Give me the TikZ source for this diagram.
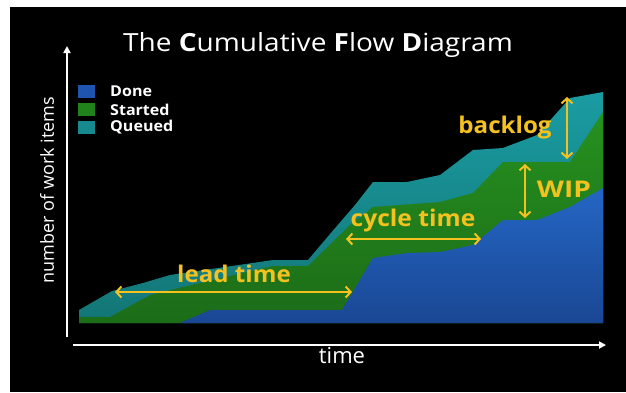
\documentclass[tikz,border=0pt]{standalone}
\usepackage{fontspec}
\usepackage{graphicx}
\setmainfont{Open Sans}
\usetikzlibrary{arrows.meta}
\definecolor{doneblue}{HTML}{1F55B0}
\definecolor{donebluetop}{HTML}{2466C4}
\definecolor{donebluebot}{HTML}{1A4794}
\definecolor{startgreen}{HTML}{21821C}
\definecolor{startgreentop}{HTML}{26911F}
\definecolor{startgreenbot}{HTML}{1C6C18}
\definecolor{queueteal}{HTML}{168A8E}
\definecolor{queuetealtop}{HTML}{1A9CA2}
\definecolor{queuetealbot}{HTML}{137575}
\definecolor{gold}{HTML}{F4C11F}
\tikzset{
  axis/.style={draw=white, line width=2pt, -{Triangle[length=7pt,width=7pt]}},
  measure/.style={draw=gold, line width=2.4pt, {Straight Barb[length=5pt,width=11pt,line width=2pt]}-{Straight Barb[length=5pt,width=11pt,line width=2pt]}},
  goldlabel/.style={text=gold, font=\fontsize{23}{25}\selectfont\bfseries, inner sep=0pt},
  legendbox/.style={minimum width=17pt, minimum height=13pt, inner sep=0pt},
  legendtext/.style={text=white, font=\fontsize{15}{17}\selectfont\bfseries, anchor=west, inner sep=0pt},
}
\begin{document}
\begin{tikzpicture}[x=1pt,y=-1pt]
\useasboundingbox (0,0) rectangle (626,392);
\fill[white] (0,0) rectangle (626,392);
\fill[black] (10,7) rectangle (626,392);

% title
\node[text=white, font=\fontsize{25}{27}\selectfont, inner sep=0pt] (title) at (318,45)
  {\scalebox{1.12}[1]{The \textbf{C}umulative \textbf{F}low \textbf{D}iagram}};

% areas
\shade[top color=queuetealtop, bottom color=queuetealbot]
  (79,310) -- (112,291) -- (143,283) -- (170,275) -- (273,260) -- (308,260)
  -- (330,234) -- (355,205) -- (373,182) -- (407,182) -- (440,175) -- (473,150)
  -- (503,148) -- (537,135) -- (570,98) -- (603,92) -- (603,323) -- (79,323) -- cycle;
\shade[top color=startgreentop, bottom color=startgreenbot]
  (79,317) -- (110,317) -- (150,295) -- (200,283) -- (273,266) -- (308,266)
  -- (350,225) -- (373,207) -- (440,202) -- (473,193) -- (503,162) -- (570,162)
  -- (603,112) -- (603,323) -- (79,323) -- cycle;
\shade[top color=donebluetop, bottom color=donebluebot]
  (180,323) -- (210,310) -- (342,310) -- (373,258) -- (407,253) -- (440,252)
  -- (473,245) -- (503,220) -- (537,220) -- (570,207) -- (603,188) -- (603,323) -- cycle;

% axes
\coordinate (yfrom) at (67,337);
\coordinate (yto) at (67,46);
\coordinate (xfrom) at (73,345);
\coordinate (xto) at (606,345);
\draw[axis] (yfrom) -- (yto);
\draw[axis] (xfrom) -- (xto);
\node[text=white, rotate=90, font=\fontsize{18}{20}\selectfont, inner sep=0pt] (ylabel) at (47,190) {number of work items};
\node[text=white, font=\fontsize{22}{24}\selectfont, inner sep=0pt] (xlabel) at (342,356) {time};

% legend
\node[legendbox, fill=doneblue] (lg1) at (86.5,91.5) {};
\node[legendbox, fill=startgreen] (lg2) at (86.5,109.5) {};
\node[legendbox, fill=queueteal] (lg3) at (86.5,127.5) {};
\node[legendtext] (lt1) at (110,91.5) {\scalebox{1.07}[1]{Done}};
\node[legendtext] (lt2) at (110,109.5) {\scalebox{1.07}[1]{Started}};
\node[legendtext] (lt3) at (110,127.5) {\scalebox{1.07}[1]{Queued}};

% measures
\coordinate (leadL) at (115,292);
\coordinate (leadR) at (352,292);
\draw[measure] (leadL) -- (leadR);
\node[goldlabel] (lead) at (234,274) {\scalebox{1.05}[1]{lead time}};

\coordinate (cycL) at (346,239);
\coordinate (cycR) at (481,239);
\draw[measure] (cycL) -- (cycR);
\node[goldlabel] (cycle) at (413,221) {\scalebox{1.07}[1]{cycle time}};

\coordinate (backT) at (567,97);
\coordinate (backB) at (567,159);
\draw[measure] (backT) -- (backB);
\node[goldlabel] (backlog) at (505,128) {\scalebox{1.05}[1]{backlog}};

\coordinate (wipT) at (525,164);
\coordinate (wipB) at (525,218);
\draw[measure] (wipT) -- (wipB);
\node[goldlabel] (wip) at (564,189) {\scalebox{1.22}[1]{WIP}};
\end{tikzpicture}
\end{document}
